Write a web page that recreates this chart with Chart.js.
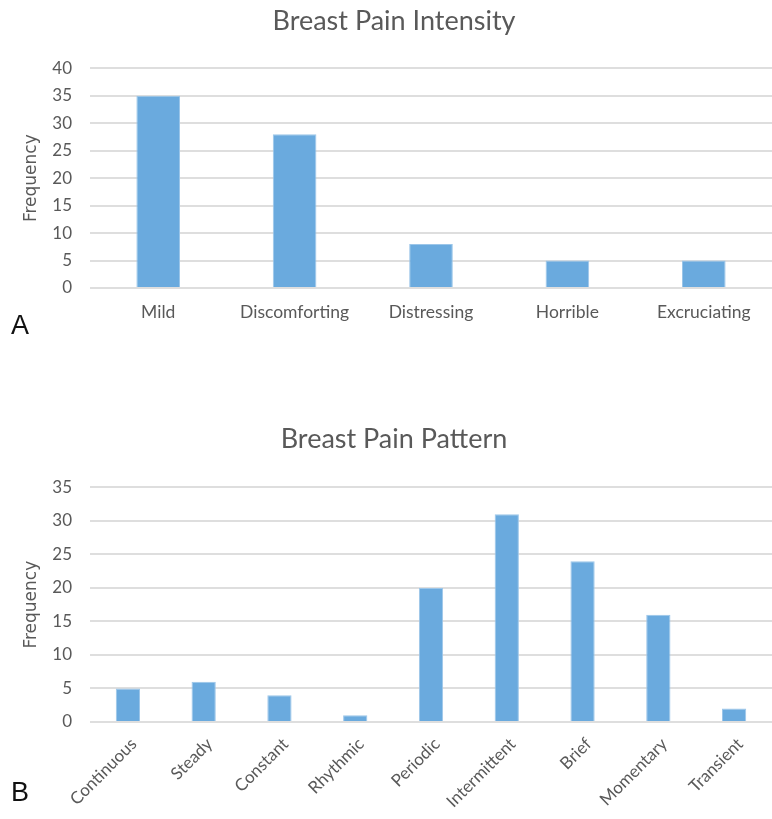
<!DOCTYPE html>
<html>
<head>
<meta charset="utf-8">
<script src="https://cdn.jsdelivr.net/npm/chart.js@4/dist/chart.umd.min.js"></script>
<style>
  html, body { margin: 0; padding: 0; background: #fff; }
  #page { position: relative; width: 772px; height: 819px; overflow: hidden; }
  .box { position: absolute; left: 0; width: 772px; }
  .tag { position: absolute; left: 11px; font: 27px "Liberation Sans", Arial, sans-serif; color: #111; }
</style>
</head>
<body>
<div id="page">
  <div class="box" style="top:0;height:340px"><canvas id="chartA"></canvas></div>
  <div class="box" style="top:420px;height:399px"><canvas id="chartB"></canvas></div>
  <div class="tag" style="top:310px">A</div>
  <div class="tag" style="top:777px">B</div>
</div>
<script>
// panel A data
const intensityLabels = ['Mild', 'Discomforting', 'Distressing', 'Horrible', 'Excruciating'];
const intensityValues = [35, 28, 8, 5, 5];

// panel B data
const patternLabels = ['Continuous', 'Steady', 'Constant', 'Rhythmic', 'Periodic', 'Intermittent', 'Brief', 'Momentary', 'Transient'];
const patternValues = [5, 6, 4, 1, 20, 31, 24, 16, 2];

const barColor = '#6aaade';
const textColor = '#595959';
const gridColor = '#dedede';

function makeChart(id, title, labels, values, yMax, opts) {
    return new Chart(document.getElementById(id), {
        type: 'bar',
        data: {
            labels: labels,
            datasets: [{
                data: values,
                backgroundColor: barColor,
                borderColor: '#9cc6e9',
                borderWidth: 1,
                categoryPercentage: 0.32,
                barPercentage: 1
            }]
        },
        options: {
            responsive: true,
            maintainAspectRatio: false,
            animation: false,
            layout: { padding: { left: 16, right: 0, top: 0, bottom: 0 } },
            plugins: {
                legend: { display: false },
                tooltip: { enabled: false },
                title: {
                    display: true,
                    text: title,
                    color: textColor,
                    font: { family: 'Lato', size: 27, weight: 'normal' },
                    padding: { top: opts.titleTop, bottom: opts.titleBottom }
                }
            },
            scales: {
                x: {
                    grid: { display: false },
                    border: { display: false },
                    ticks: {
                        color: textColor,
                        font: { family: 'Lato', size: opts.xFont },
                        padding: opts.xPad,
                        labelOffset: opts.labelOffset,
                        maxRotation: opts.rotation,
                        minRotation: opts.rotation,
                        autoSkip: false
                    },
                    afterFit: function (scale) { scale.height = opts.xHeight; }
                },
                y: {
                    min: 0,
                    max: yMax,
                    ticks: {
                        stepSize: 5,
                        color: textColor,
                        font: { family: 'Lato', size: 17 },
                        padding: 18
                    },
                    grid: { color: gridColor, lineWidth: 2, drawTicks: false },
                    border: { display: false },
                    title: {
                        display: true,
                        text: 'Frequency',
                        color: textColor,
                        font: { family: 'DejaVu Sans', size: 17 },
                        padding: { top: 5, bottom: 0 }
                    },
                    afterFit: function (scale) { scale.width = 74; }
                }
            }
        }
    });
}

makeChart('chartA', 'Breast Pain Intensity', intensityLabels, intensityValues, 40,
    { titleTop: 5, titleBottom: 31, xPad: 6, xFont: 17.5, labelOffset: 0, rotation: 0, xHeight: 52 });

makeChart('chartB', 'Breast Pain Pattern', patternLabels, patternValues, 35,
    { titleTop: 3, titleBottom: 32, xPad: 4, xFont: 17, labelOffset: 6, rotation: 45, xHeight: 97 });
</script>
</body>
</html>
